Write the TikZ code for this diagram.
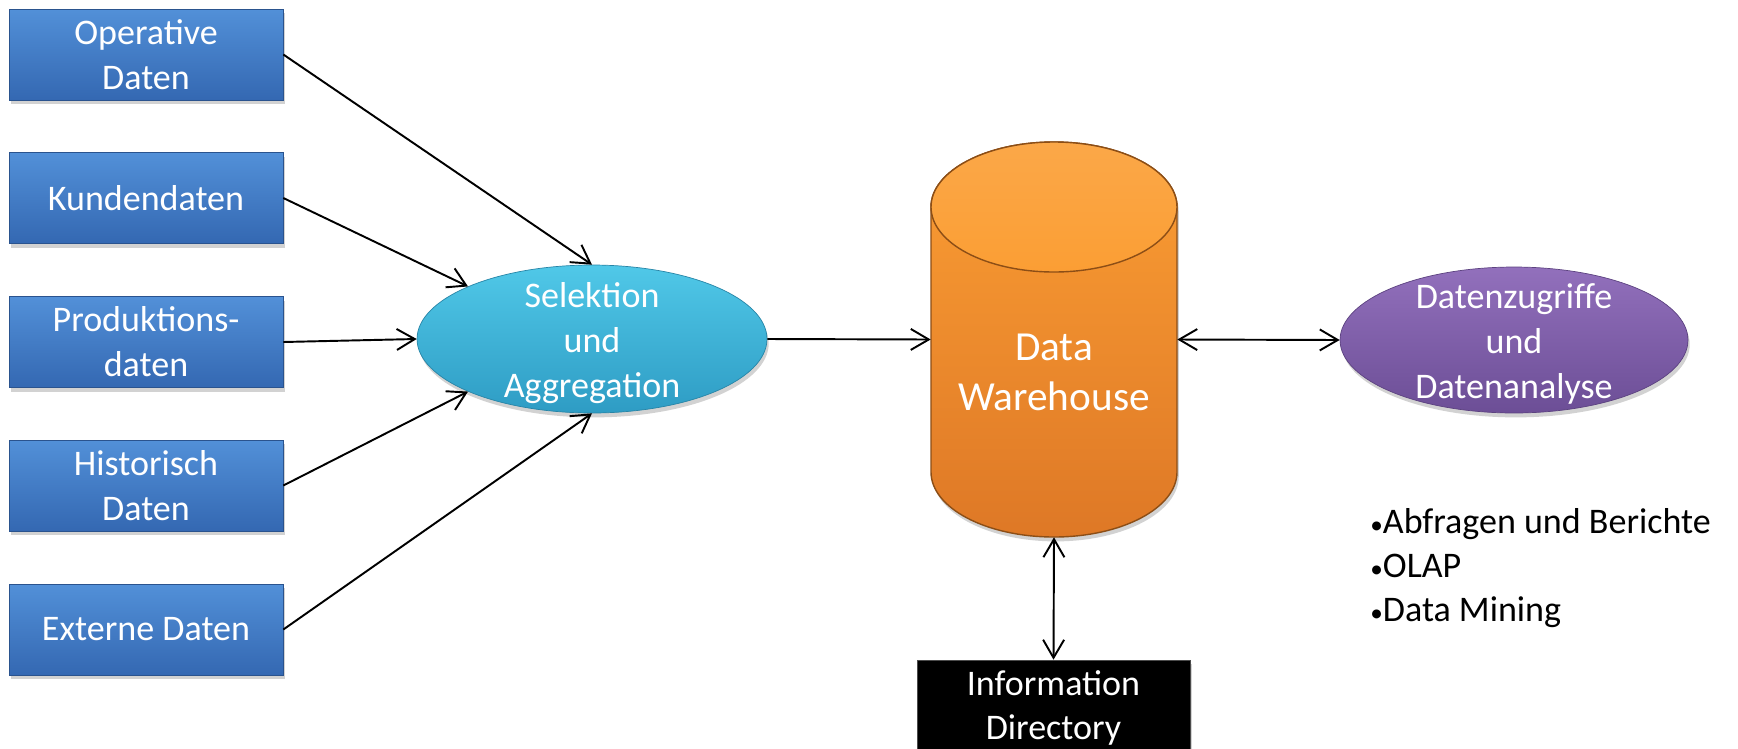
\documentclass[tikz,border=0pt]{standalone}
\usepackage{fontspec}
\usepackage{graphicx}
\setmainfont{Carlito}
\usetikzlibrary{shapes.geometric,shadows,arrows.meta}
\newcommand{\lbul}{\scalebox{0.7}{•}}

\definecolor{boxtop}{RGB}{82,144,216}
\definecolor{boxbot}{RGB}{52,104,178}
\definecolor{seltop}{RGB}{80,200,232}
\definecolor{selbot}{RGB}{46,156,196}
\definecolor{dwtop}{RGB}{251,158,52}
\definecolor{dwbot}{RGB}{222,120,38}
\definecolor{dwline}{RGB}{140,78,22}
\definecolor{anatop}{RGB}{146,112,188}
\definecolor{anabot}{RGB}{108,78,150}

\begin{document}
\begin{tikzpicture}[x=0.02cm,y=-0.02cm,
  >={Straight Barb[length=3.6mm,width=4.2mm]},
  conn/.style={line width=1.1pt},
  shad/.style={drop shadow={opacity=0.35,shadow xshift=1pt,shadow yshift=-2.5pt}},
  lbl/.style={text=white,align=center,font=\fontsize{20.5}{25.5}\selectfont},
  srcbox/.style={rectangle,minimum width=5.48cm,minimum height=1.82cm,inner sep=0pt,
    top color=boxtop,bottom color=boxbot,draw=boxbot!80!black,shad,lbl},
  aggell/.style={ellipse,minimum width=7cm,minimum height=2.96cm,inner sep=0pt,
    top color=seltop,bottom color=selbot,draw=selbot!85!black,shad},
  dwcyl/.style={rectangle,minimum width=4.92cm,minimum height=7.9cm,inner sep=0pt},
  dwbody/.style={top color=dwtop,bottom color=dwbot,draw=dwline,line width=0.8pt},
  anaell/.style={ellipse,minimum width=6.96cm,minimum height=2.92cm,inner sep=0pt,
    top color=anatop,bottom color=anabot,draw=anabot!85!black,shad},
  infobox/.style={rectangle,minimum width=5.46cm,minimum height=1.92cm,inner sep=0pt,
    fill=black,draw=black!70,shad,lbl}
]
% canvas
\path[use as bounding box,fill=white] (0,0) rectangle (1738,748);

% sources
\node[srcbox] (op) at (146,54.5) {Operative\\Daten};
\node[srcbox] (kd) at (146,198) {Kundendaten};
\node[srcbox] (pd) at (146,342) {Produktions-\\daten};
\node[srcbox] (hd) at (146,485.5) {Historisch\\Daten};
\node[srcbox] (ed) at (146,629.5) {Externe Daten};

% selection and aggregation
\node[aggell,label={[lbl,yshift=-0.08cm]center:Selektion\\und\\Aggregation}] (sel) at (592,339) {};

% data warehouse: cylinder, top ellipse centre y=207, bottom y=472
\path[dwbody,shad] (931,207) -- (931,472) arc[start angle=180,end angle=0,x radius=123,y radius=65]
  -- (1177,207) arc[start angle=0,end angle=-180,x radius=123,y radius=65] -- cycle;
\path[dwbody,top color=dwtop!90!white,bottom color=dwtop] (1054,207) ellipse[x radius=123,y radius=65];
\node[dwcyl,label={[lbl,font=\fontsize{23.5}{28.5}\selectfont,yshift=-0.66cm]center:Data\\Warehouse}] (dw) at (1054,339.5) {};

% access and analysis
\node[anaell,label={[lbl,yshift=-0.08cm]center:Datenzugriffe\\und\\Datenanalyse}] (ana) at (1514,340) {};
\node[anchor=north west,align=left,inner sep=0pt,font=\fontsize{20.5}{25}\selectfont] (list) at (1370,508)
  {\lbul Abfragen und Berichte\\\lbul OLAP\\\lbul Data Mining};

% information directory
\node[infobox] (info) at (1053.5,708) {Information\\Directory};

% connectors
\draw[conn,->] (op.east) -- (sel.north);
\draw[conn,->] (kd.east) -- (sel.north west);
\draw[conn,->] (pd.east) -- (sel.west);
\draw[conn,->] (hd.east) -- (sel.south west);
\draw[conn,->] (ed.east) -- (sel.south);
\draw[conn,->] (sel.east) -- (dw.west);
\draw[conn,<->] (dw.east) -- (ana.west);
\draw[conn,<->] (dw.south) -- (info.north);
\end{tikzpicture}
\end{document}
